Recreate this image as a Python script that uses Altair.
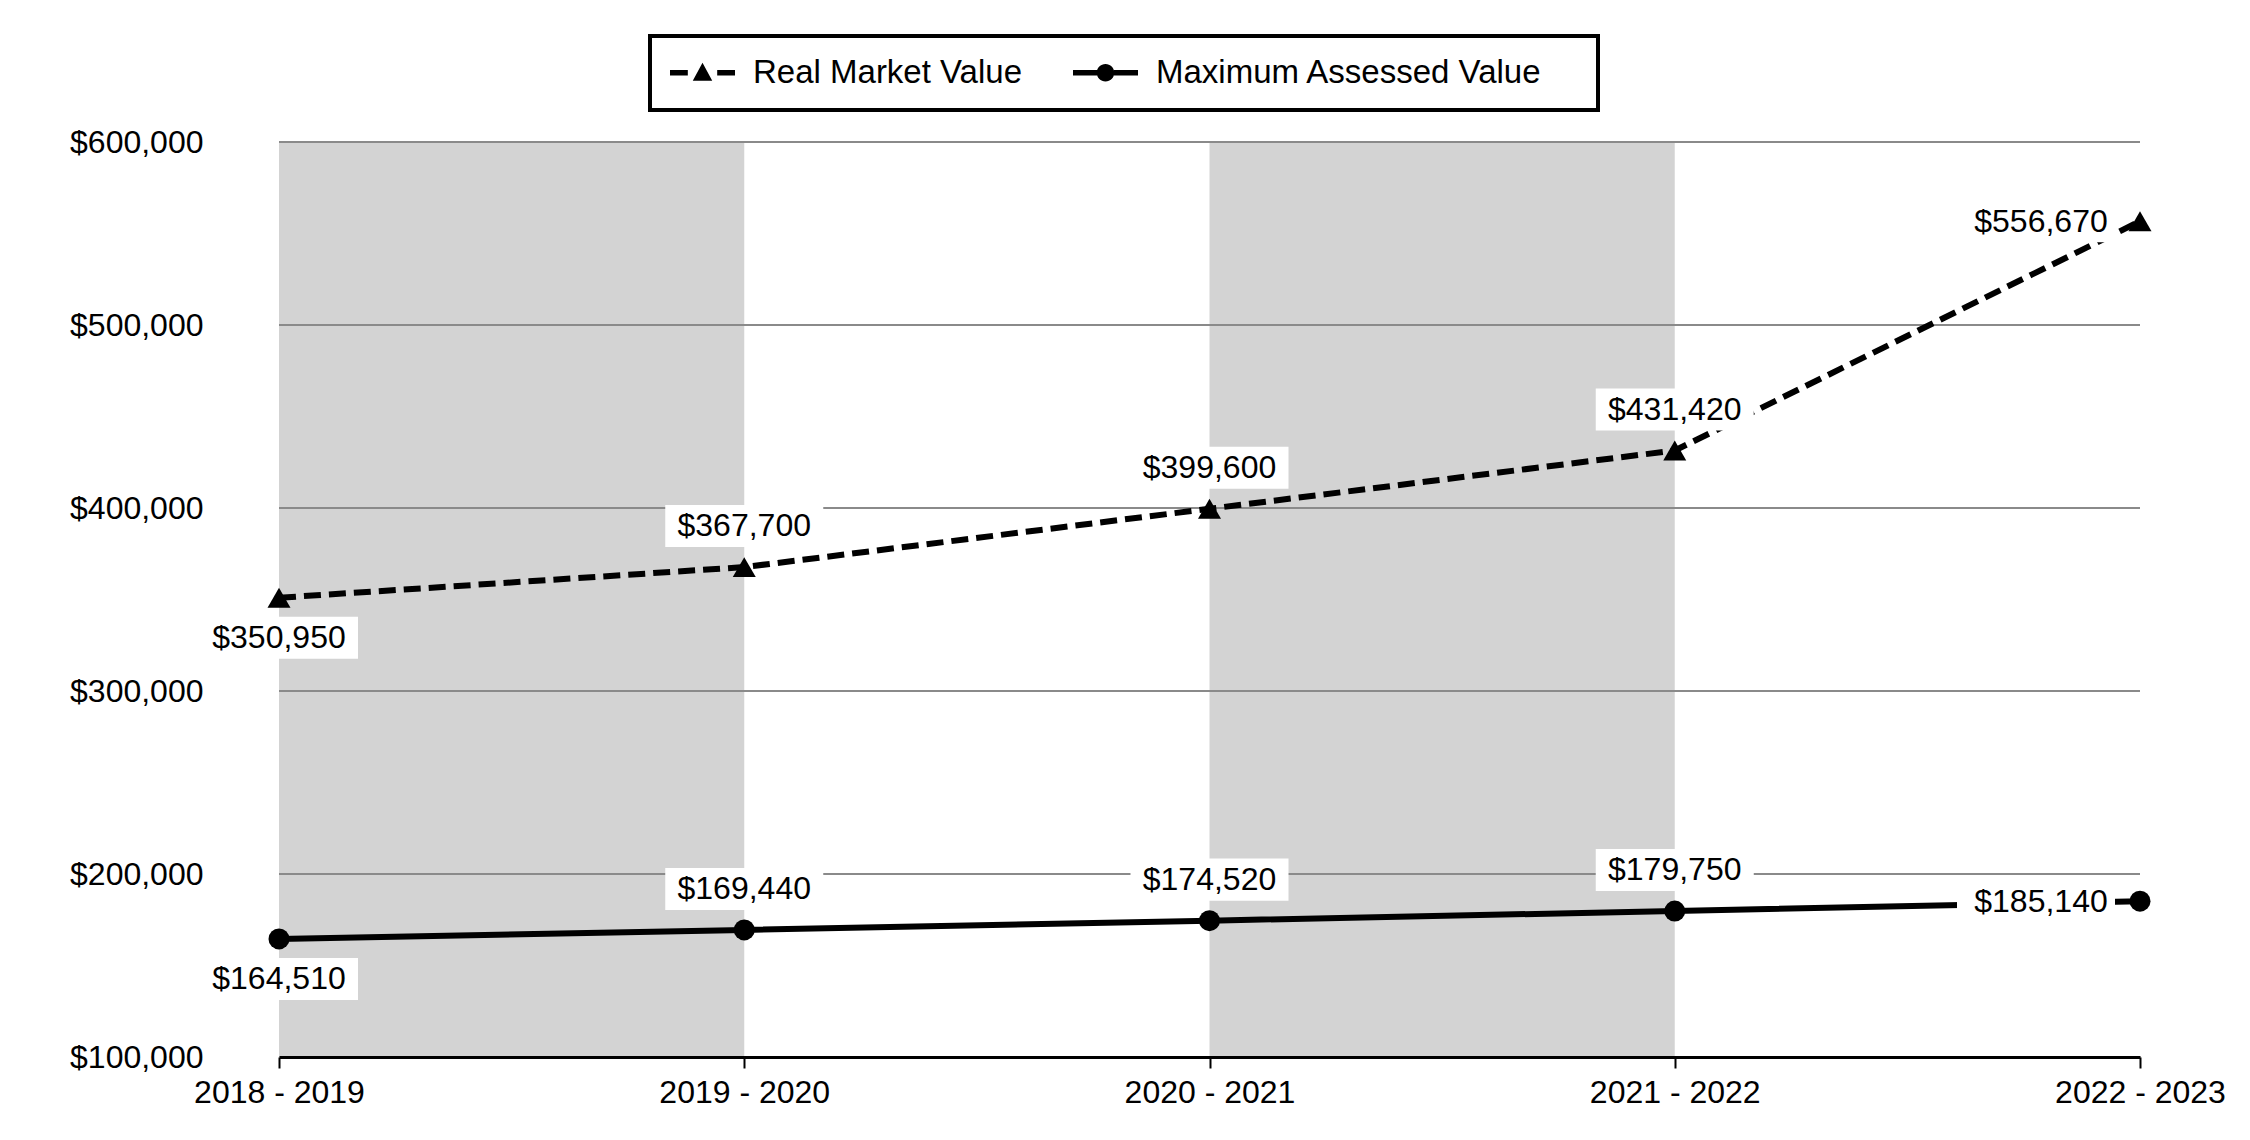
import json
import altair as alt
import pandas as pd

# ---------------- data ----------------
categories = ["2018 - 2019", "2019 - 2020", "2020 - 2021", "2021 - 2022", "2022 - 2023"]
rmv_values = [350950, 367700, 399600, 431420, 556670]
mav_values = [164510, 169440, 174520, 179750, 185140]
series_names = ["Real Market Value", "Maximum Assessed Value"]
y_ticks = [100000, 200000, 300000, 400000, 500000, 600000]
band_start = [0, 2]
band_end = [1, 3]

# ---------------- layout / style ----------------
W, H = 1861, 915
FONT = "Liberation Sans"
FS = 32
LFS = 33
LW = 6
n = len(categories)
idx = list(range(n))

rows = []
for i in idx:
    pos = "below" if i == 0 else ("left" if i == n - 1 else "above")
    rows.append({"i": i, "series": series_names[0], "value": rmv_values[i], "pos": pos})
    rows.append({"i": i, "series": series_names[1], "value": mav_values[i], "pos": pos})
df = pd.DataFrame(rows)

bands = pd.DataFrame({"x0": band_start, "x1": band_end,
                      "lo": [y_ticks[0]] * len(band_start), "hi": [y_ticks[-1]] * len(band_start)})
grid = pd.DataFrame({"y": y_ticks[1:], "x0": [0] * (len(y_ticks) - 1), "x1": [n - 1] * (len(y_ticks) - 1)})

x_scale = alt.Scale(domain=[0, n - 1], nice=False, zero=False)
y_scale = alt.Scale(domain=[y_ticks[0], y_ticks[-1]], nice=False, zero=False)

x_axis = alt.Axis(values=idx, labelExpr=json.dumps(categories) + "[datum.value]", title=None,
                  grid=False, domainColor="black", domainWidth=3, tickColor="black", tickWidth=2,
                  tickSize=11, labelPadding=9, labelFontSize=FS, labelFont=FONT, labelColor="black",
                  zindex=1, labelFlush=False, labelOverlap=False)
y_axis = alt.Axis(values=y_ticks, format="$,.0f", title=None, grid=False, domain=False, ticks=False,
                  tickSize=0, labelPadding=76, labelFontSize=FS, labelFont=FONT, labelColor="black")

def X(field):
    return alt.X(field, scale=x_scale, axis=x_axis)

def Y(field):
    return alt.Y(field, scale=y_scale, axis=y_axis)

band_layer = alt.Chart(bands).mark_rect(color="#d3d3d3").encode(
    x=X("x0:Q"), x2="x1:Q", y=Y("lo:Q"), y2="hi:Q")

grid_layer = alt.Chart(grid).mark_rule(color="#8a8a8a", strokeWidth=2).encode(
    x=X("x0:Q"), x2="x1:Q", y=Y("y:Q"))

base = alt.Chart(df)
rmv_f = alt.datum.series == series_names[0]
mav_f = alt.datum.series == series_names[1]

rmv_line = base.transform_filter(rmv_f).mark_line(color="black", strokeWidth=LW, strokeDash=[17, 8]).encode(
    x=X("i:Q"), y=Y("value:Q"))
mav_line = base.transform_filter(mav_f).mark_line(color="black", strokeWidth=LW).encode(
    x=X("i:Q"), y=Y("value:Q"))

rmv_pts = base.transform_filter(rmv_f).mark_point(shape="triangle-up", filled=True, size=529,
                                                   color="black", opacity=1).encode(x=X("i:Q"), y=Y("value:Q"))
mav_pts = base.transform_filter(mav_f).mark_point(shape="circle", filled=True, size=441,
                                                   color="black", opacity=1).encode(x=X("i:Q"), y=Y("value:Q"))

# legend glyphs (units of 16.5 px; drawn from x=-1 to 2.94 so the glyph is ~65 px wide)
path_rmv = ("M-1,-0.16H0.08V0.16H-1Z M0.38,0.49L0.97,-0.6L1.56,0.49Z M1.86,-0.16H2.94V0.16H1.86Z")
path_mav = ("M-1,-0.16H0.46V0.16H-1Z M1.48,-0.16H2.94V0.16H1.48Z "
            "M0.44,0A0.53,0.53 0 1,1 1.5,0A0.53,0.53 0 1,1 0.44,0Z")

legend_layer = base.mark_point(filled=True, size=0, color="black", strokeWidth=0).encode(
    x=X("i:Q"), y=Y("value:Q"),
    shape=alt.Shape("series:N", scale=alt.Scale(domain=series_names, range=[path_rmv, path_mav]),
                    legend=alt.Legend(title=".", titleColor="white", titleOrient="right",
                                      titlePadding=26, titleFontSize=LFS, titleFont=FONT,
                                      orient="none", legendX=371, legendY=-106,
                                      direction="horizontal", symbolSize=1089, symbolFillColor="black",
                                      symbolStrokeColor="black", symbolStrokeWidth=0, symbolOpacity=1,
                                      labelFont=FONT, labelFontSize=LFS, labelColor="black",
                                      labelLimit=800, labelOffset=50, columnPadding=50, padding=20,
                                      strokeColor="black")))

box_path = "M-1,-0.266H1V0.266H-1Z"
offsets = {"above": (0, -41, 0, -41), "below": (0, 40, 0, 40), "left": (-104, 0, -99, 1)}

box_layers = []
text_layers = []
for pos, (bx, by, tx, ty) in offsets.items():
    sub = base.transform_filter(alt.datum.pos == pos)
    box_layers.append(sub.mark_point(shape=box_path, filled=True, size=158 * 158, color="white",
                                     opacity=1, strokeWidth=0, xOffset=bx, yOffset=by).encode(
        x=X("i:Q"), y=Y("value:Q")))
    text_layers.append(sub.mark_text(font=FONT, fontSize=FS, color="black", align="center",
                                     baseline="middle", dx=tx, dy=ty).encode(
        x=X("i:Q"), y=Y("value:Q"), text=alt.Text("value:Q", format="$,.0f")))

chart = alt.layer(band_layer, grid_layer, rmv_line, mav_line, rmv_pts, mav_pts, legend_layer,
                  *box_layers, *text_layers).properties(
    width=W, height=H,
    autosize=alt.AutoSizeParams(type="none"),
    padding={"left": 271, "top": 134, "right": 100, "bottom": 75},
    background="white",
).configure_view(strokeWidth=0).configure_legend(strokeWidth=4)

chart.save("out.html", embed_options={"renderer": "svg", "actions": False})
